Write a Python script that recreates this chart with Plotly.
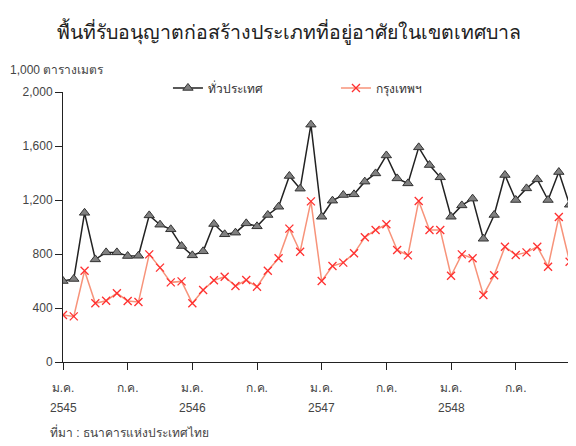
import plotly.graph_objects as go

# เดือน ม.ค. 2545 - ธ.ค. 2548 (48 เดือน)
months = list(range(48))

tick_pos = [0, 6, 12, 18, 24, 30, 36, 42]
tick_text = ["ม.ค.", "ก.ค.", "ม.ค.", "ก.ค.", "ม.ค.", "ก.ค.", "ม.ค.", "ก.ค."]
year_pos = [0, 12, 24, 36]
year_text = ["2545", "2546", "2547", "2548"]

# ทั่วประเทศ (1,000 ตารางเมตร)
whole_country = [
    600, 615, 1105, 760, 812, 812, 785, 787, 1086, 1017, 983, 859,
    790, 820, 1022, 946, 958, 1027, 1005, 1089, 1150, 1378, 1284, 1758,
    1076, 1195, 1237, 1242, 1336, 1397, 1530, 1360, 1323, 1590, 1459, 1368,
    1076, 1160, 1210, 913, 1089, 1385, 1200, 1286, 1353, 1200, 1407, 1165,
]

# กรุงเทพฯ
bangkok = [
    348, 338, 676, 435, 454, 509, 452, 444, 797, 699, 590, 597,
    435, 533, 605, 632, 563, 607, 558, 676, 768, 988, 817, 1190,
    600, 711, 736, 805, 924, 978, 1020, 830, 790, 1193, 978, 978,
    639, 797, 768, 496, 642, 854, 793, 812, 854, 706, 1074, 743,
]

FONT = "Liberation Sans, DejaVu Sans, sans-serif"

fig = go.Figure()

fig.add_trace(go.Scatter(
    x=months, y=whole_country, name="ทั่วประเทศ", mode="lines+markers",
    line=dict(color="#222222", width=1.5),
    marker=dict(symbol="triangle-up", size=9, color="#808080",
                line=dict(color="#333333", width=1)),
))

fig.add_trace(go.Scatter(
    x=months, y=bangkok, name="กรุงเทพฯ", mode="lines+markers",
    line=dict(color="#f7937a", width=1.5),
    marker=dict(symbol="x-thin", size=8, color="#ff3030",
                line=dict(color="#ff3030", width=1.3)),
))

# หน้า html มีขอบ body 8px จึงลดขนาดรูปลง 8px
fig.update_layout(
    width=568, height=438,
    margin=dict(l=55, r=1, t=84, b=84, autoexpand=False),
    paper_bgcolor="white", plot_bgcolor="white",
    font=dict(family=FONT, size=12, color="#444444"),
    showlegend=True,
    legend=dict(orientation="h", x=0.205, y=1.015, xanchor="left", yanchor="middle",
                entrywidth=123, font=dict(size=12, color="#333333")),
    title=dict(text="พื้นที่รับอนุญาตก่อสร้างประเภทที่อยู่อาศัยในเขตเทศบาล",
               x=0.086, xanchor="left", y=0.945, yanchor="middle",
               font=dict(size=19.5, color="#222222")),
)

fig.update_xaxes(
    range=[0, 47.5], tickmode="array", tickvals=tick_pos, ticktext=tick_text,
    showgrid=False, zeroline=False, showline=True, linecolor="#222222", linewidth=1,
    ticks="outside", ticklen=7, tickcolor="#222222", automargin=False,
    ticklabelstandoff=8,
)

fig.update_yaxes(
    range=[0, 2000], tickvals=[0, 400, 800, 1200, 1600, 2000], tickformat=",",
    showgrid=False, zeroline=False, showline=True, linecolor="#222222", linewidth=1,
    ticks="outside", ticklen=7, tickcolor="#222222", automargin=False,
)

for xp, yt in zip(year_pos, year_text):
    fig.add_annotation(text=yt, x=xp, xref="x", yref="paper", y=-0.17,
                       yanchor="middle", showarrow=False,
                       font=dict(size=12, color="#444444"))

fig.add_annotation(text="1,000 ตารางเมตร", xref="paper", yref="paper",
                   x=-0.107, y=1.081, xanchor="left", yanchor="middle",
                   showarrow=False, font=dict(size=12, color="#444444"))

fig.add_annotation(text="ที่มา : ธนาคารแห่งประเทศไทย", xref="paper", yref="paper",
                   x=-0.029, y=-0.259, xanchor="left", yanchor="middle",
                   showarrow=False, font=dict(size=12, color="#444444"))

fig.write_html("out.html")
